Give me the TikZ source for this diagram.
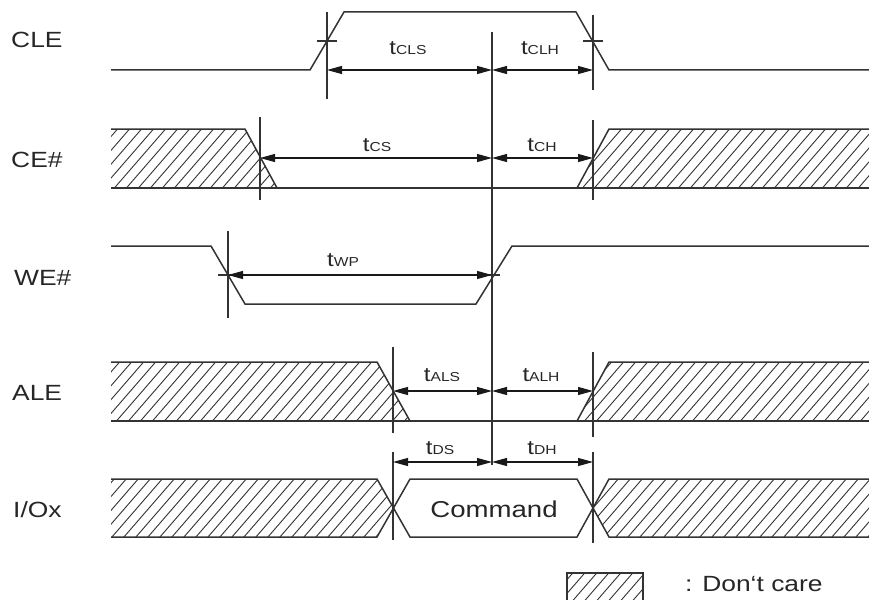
\documentclass[tikz,border=0pt]{standalone}
\usepackage{fontspec}
\setmainfont{Liberation Sans}[FakeStretch=1.2]
\usetikzlibrary{arrows.meta}
\newcommand\tsub[1]{t{\fontsize{13}{13}\selectfont #1}}
\newcommand\hatchregion[1]{\begin{scope}\clip #1;\foreach \x in {-320,-308,...,880}{\draw[hl] (\x,620) -- ++(520,-600);}\end{scope}}
\begin{document}
\begin{tikzpicture}[x=1pt,y=-1pt,
 sig/.style={line width=1.5pt, color=black!80},
 tickl/.style={line width=1.3pt, color=black!80},
 dim/.style={line width=1.1pt, color=black!90, {Triangle[length=15pt,width=8pt]}-{Triangle[length=15pt,width=8pt]}},
 hl/.style={line width=0.9pt, color=black!80},
 lab/.style={font=\fontsize{22}{22}\selectfont, anchor=base west, inner sep=0pt, text=black!85},
 tl/.style={font=\fontsize{20}{20}\selectfont, anchor=base, inner sep=0pt, text=black!85}]
\useasboundingbox (0,0) rectangle (869,599);

% signal names
\node[lab] (nCLE) at (11,48) {CLE};
\node[lab] (nCE) at (11,167) {CE\#};
\node[lab] (nWE) at (14,285) {WE\#};
\node[lab] (nALE) at (12,400) {ALE};
\node[lab] (nIO) at (13,517) {I/Ox};

% hatched regions
\hatchregion{(111,129)--(245,129)--(277,188)--(111,188)--cycle}
\hatchregion{(577,188)--(609,129)--(869,129)--(869,188)--cycle}
\hatchregion{(111,362)--(377,362)--(410,421)--(111,421)--cycle}
\hatchregion{(577,421)--(609,362)--(869,362)--(869,421)--cycle}
\hatchregion{(111,479)--(377,479)--(393.5,508)--(377,537)--(111,537)--cycle}
\hatchregion{(593.5,508)--(609,479)--(869,479)--(869,537)--(609,537)--cycle}
\hatchregion{(567,573) rectangle (643,610)}

% waveforms
\draw[sig] (111,70)--(310,70)--(344,12)--(576,12)--(609,70)--(869,70);
\draw[sig] (111,129)--(245,129)--(277,188);
\draw[sig] (111,188)--(869,188);
\draw[sig] (577,188)--(609,129)--(869,129);
\draw[sig] (111,246)--(211,246)--(245,304)--(476,304)--(512,246)--(869,246);
\draw[sig] (111,362)--(377,362)--(410,421);
\draw[sig] (111,421)--(869,421);
\draw[sig] (577,421)--(609,362)--(869,362);
\draw[sig] (111,479)--(377,479)--(410,537)--(577,537)--(609,479)--(869,479);
\draw[sig] (111,537)--(377,537)--(410,479)--(577,479)--(609,537)--(869,537);
\node[font=\fontsize{23}{23}\selectfont, anchor=base, inner sep=0pt, text=black!85] (cmd) at (494,517) {Command};

% timing reference lines
\draw[tickl] (327,12)--(327,99) (317,41)--(337,41);
\draw[tickl] (593,15)--(593,90) (583,41)--(603,41);
\draw[tickl] (260,117)--(260,200);
\draw[tickl] (593,120)--(593,200);
\draw[tickl] (228,231)--(228,318) (218,275)--(238,275);
\draw[tickl] (492,32)--(492,465) (485,275)--(500,275);
\draw[tickl] (393,347)--(393,433) (393,452)--(393,540);
\draw[tickl] (593,352)--(593,437) (593,452)--(593,543);

% dimension endpoints
\coordinate (a1) at (327,70); \coordinate (a2) at (492,70); \coordinate (a3) at (593,70);
\coordinate (b1) at (260,158); \coordinate (b2) at (492,158); \coordinate (b3) at (593,158);
\coordinate (w1) at (228,275); \coordinate (w2) at (492,275);
\coordinate (l1) at (393,391); \coordinate (l2) at (492,391); \coordinate (l3) at (593,391);
\coordinate (d1) at (393,462); \coordinate (d2) at (492,462); \coordinate (d3) at (593,462);

\draw[dim] (a1)--(a2); \draw[dim] (a2)--(a3);
\draw[dim] (b1)--(b2); \draw[dim] (b2)--(b3);
\draw[dim] (w1)--(w2);
\draw[dim] (l1)--(l2); \draw[dim] (l2)--(l3);
\draw[dim] (d1)--(d2); \draw[dim] (d2)--(d3);

\node[tl] (tCLS) at (408,55) {\tsub{CLS}};
\node[tl] (tCLH) at (540,55) {\tsub{CLH}};
\node[tl] (tCS) at (377,151) {\tsub{CS}};
\node[tl] (tCH) at (542,151) {\tsub{CH}};
\node[tl] (tWP) at (343,266) {\tsub{WP}};
\node[tl] (tALS) at (442,381) {\tsub{ALS}};
\node[tl] (tALH) at (541,381) {\tsub{ALH}};
\node[tl] (tDS) at (440,454) {\tsub{DS}};
\node[tl] (tDH) at (542,454) {\tsub{DH}};

% legend
\draw[sig] (567,610)--(567,573)--(643,573)--(643,610);
\node[font=\fontsize{22}{22}\selectfont, anchor=base west, inner sep=0pt, text=black!85] (dc) at (685,591) {: Don{\char"0060}t care};
\end{tikzpicture}
\end{document}
